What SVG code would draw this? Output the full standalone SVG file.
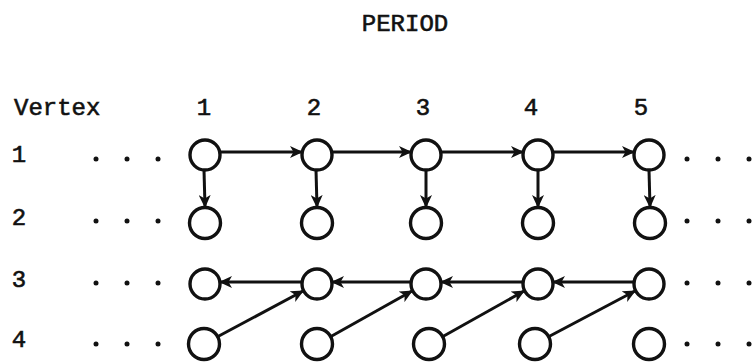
<svg xmlns="http://www.w3.org/2000/svg" width="754" height="363" viewBox="0 0 754 363">
<defs>
<style>
.t{font-family:"Liberation Mono","DejaVu Sans Mono",monospace;font-size:24px;fill:#111;stroke:#111;stroke-width:0.6}
.n{fill:#fff;stroke:#111;stroke-width:3.4}
.e{stroke:#111;stroke-width:3;fill:none;marker-end:url(#ah)}
.d{fill:#111}
</style>
<marker id="ah" markerWidth="14" markerHeight="12" refX="12" refY="6" orient="auto" markerUnits="userSpaceOnUse">
<path d="M0,0 L13,6 L0,12 L3.5,6 z" fill="#111"/>
</marker>
</defs>
<rect width="754" height="363" fill="#fff"/>
<g id="labels">
<text class="t" x="405" y="31" text-anchor="middle">PERIOD</text>
<text class="t" x="14" y="115">Vertex</text>
<text class="t" x="204" y="115" text-anchor="middle">1</text>
<text class="t" x="314" y="115" text-anchor="middle">2</text>
<text class="t" x="423" y="115" text-anchor="middle">3</text>
<text class="t" x="531" y="115" text-anchor="middle">4</text>
<text class="t" x="641" y="115" text-anchor="middle">5</text>
<text class="t" x="19" y="162" text-anchor="middle">1</text>
<text class="t" x="19" y="225" text-anchor="middle">2</text>
<text class="t" x="19" y="287" text-anchor="middle">3</text>
<text class="t" x="19" y="347" text-anchor="middle">4</text>
</g>
<g id="dots">
<circle class="d" cx="96" cy="159" r="2.5"/><circle class="d" cx="127" cy="159" r="2.5"/><circle class="d" cx="158" cy="159" r="2.5"/>
<circle class="d" cx="96" cy="221" r="2.5"/><circle class="d" cx="127" cy="221" r="2.5"/><circle class="d" cx="158" cy="221" r="2.5"/>
<circle class="d" cx="96" cy="283" r="2.5"/><circle class="d" cx="127" cy="283" r="2.5"/><circle class="d" cx="158" cy="283" r="2.5"/>
<circle class="d" cx="96" cy="344" r="2.5"/><circle class="d" cx="127" cy="344" r="2.5"/><circle class="d" cx="158" cy="344" r="2.5"/>
<circle class="d" cx="687" cy="159" r="2.5"/><circle class="d" cx="718" cy="159" r="2.5"/><circle class="d" cx="749" cy="159" r="2.5"/>
<circle class="d" cx="687" cy="221" r="2.5"/><circle class="d" cx="718" cy="221" r="2.5"/><circle class="d" cx="749" cy="221" r="2.5"/>
<circle class="d" cx="687" cy="283" r="2.5"/><circle class="d" cx="718" cy="283" r="2.5"/><circle class="d" cx="749" cy="283" r="2.5"/>
<circle class="d" cx="687" cy="344" r="2.5"/><circle class="d" cx="718" cy="344" r="2.5"/><circle class="d" cx="749" cy="344" r="2.5"/>
</g>
<g id="connectors">
<line class="e" x1="220" y1="152" x2="302" y2="152"/>
<line class="e" x1="332" y1="152" x2="411" y2="152"/>
<line class="e" x1="441" y1="152" x2="523" y2="152"/>
<line class="e" x1="553" y1="152" x2="634" y2="152"/>
<line class="e" x1="204" y1="170" x2="205" y2="207"/>
<line class="e" x1="316" y1="170" x2="317" y2="207"/>
<line class="e" x1="426" y1="170" x2="426" y2="207"/>
<line class="e" x1="538" y1="170" x2="538" y2="207"/>
<line class="e" x1="649" y1="170" x2="650" y2="207"/>
<line class="e" x1="302" y1="282" x2="220" y2="282"/>
<line class="e" x1="411" y1="282" x2="332" y2="282"/>
<line class="e" x1="523" y1="282" x2="441" y2="282"/>
<line class="e" x1="634" y1="282" x2="553" y2="282"/>
<line class="e" x1="217" y1="337" x2="303" y2="291"/>
<line class="e" x1="330" y1="337" x2="412" y2="291"/>
<line class="e" x1="442" y1="337" x2="524" y2="291"/>
<line class="e" x1="548" y1="337" x2="635" y2="291"/>
</g>
<g id="v1p1"><circle class="n" cx="205" cy="155" r="15"/></g>
<g id="v1p2"><circle class="n" cx="317" cy="155" r="15"/></g>
<g id="v1p3"><circle class="n" cx="426" cy="155" r="15"/></g>
<g id="v1p4"><circle class="n" cx="538" cy="155" r="15"/></g>
<g id="v1p5"><circle class="n" cx="649" cy="155" r="15"/></g>
<g id="v2p1"><circle class="n" cx="205" cy="223" r="15.5"/></g>
<g id="v2p2"><circle class="n" cx="317" cy="223" r="15.5"/></g>
<g id="v2p3"><circle class="n" cx="426" cy="223" r="15.5"/></g>
<g id="v2p4"><circle class="n" cx="538" cy="223" r="15.5"/></g>
<g id="v2p5"><circle class="n" cx="650" cy="223" r="15.5"/></g>
<g id="v3p1"><circle class="n" cx="205" cy="284" r="15"/></g>
<g id="v3p2"><circle class="n" cx="317" cy="284" r="15"/></g>
<g id="v3p3"><circle class="n" cx="426" cy="284" r="15"/></g>
<g id="v3p4"><circle class="n" cx="538" cy="284" r="15"/></g>
<g id="v3p5"><circle class="n" cx="649" cy="284" r="15"/></g>
<g id="v4p1"><circle class="n" cx="204" cy="344" r="15.5"/></g>
<g id="v4p2"><circle class="n" cx="317" cy="344" r="15.5"/></g>
<g id="v4p3"><circle class="n" cx="429" cy="344" r="15.5"/></g>
<g id="v4p4"><circle class="n" cx="535" cy="344" r="15.5"/></g>
<g id="v4p5"><circle class="n" cx="649" cy="344" r="15.5"/></g>
</svg>
